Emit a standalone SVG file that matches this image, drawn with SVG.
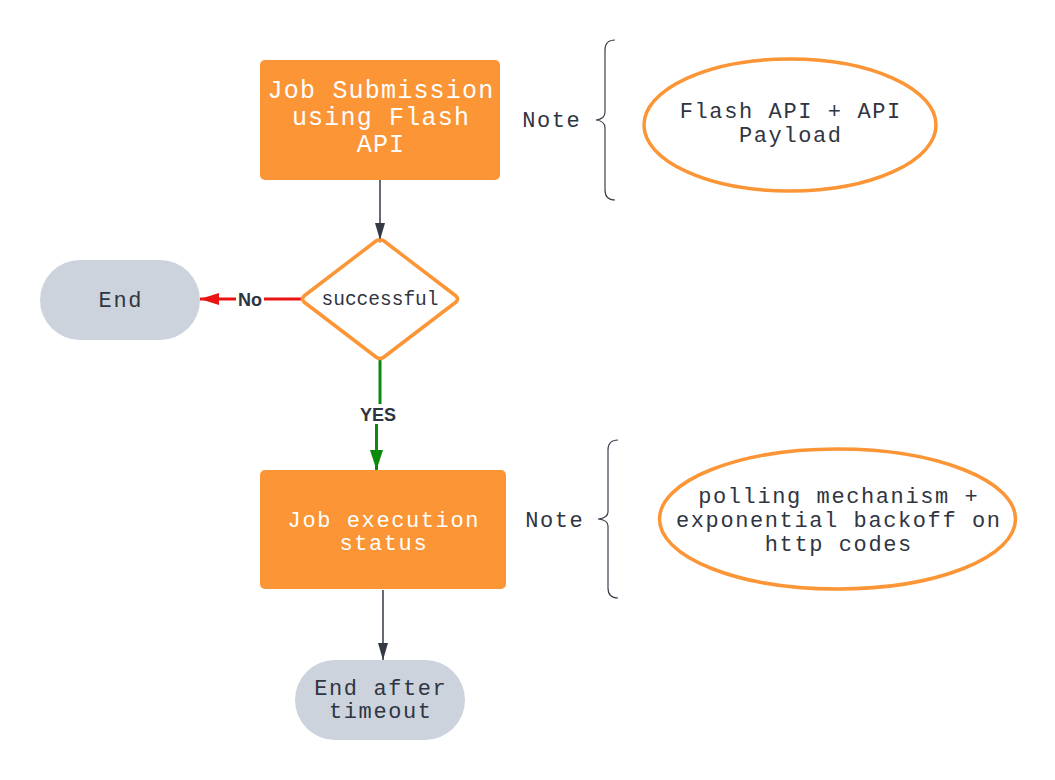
<svg xmlns="http://www.w3.org/2000/svg" width="1055" height="780" viewBox="0 0 1055 780">
<defs>
<style>
.box{fill:#fb9535;}
.pill{fill:#cdd3dc;}
.wt{fill:#ffffff;font-family:"Liberation Mono",monospace;text-anchor:middle;}
.dt{fill:#2f3542;font-family:"Liberation Mono",monospace;text-anchor:middle;}
.m{font-size:22px;letter-spacing:1.6px;}
.b{font-size:25px;letter-spacing:1.2px;}
.lbl{fill:#2f3542;font-family:"Liberation Sans",Arial,sans-serif;font-weight:bold;font-size:18px;text-anchor:middle;}
.note{fill:none;stroke:#fb9535;stroke-width:3.5;}
.brace{fill:none;stroke:#3a404b;stroke-width:1.2;}
</style>
<marker id="ahDark" viewBox="0 0 17 10" refX="17" refY="5" markerWidth="17" markerHeight="10" markerUnits="userSpaceOnUse" orient="auto"><path d="M0,0 L17,5 L0,10 z" fill="#333a45"/></marker>
<marker id="ahRed" viewBox="0 0 19 12" refX="19" refY="6" markerWidth="19" markerHeight="12" markerUnits="userSpaceOnUse" orient="auto"><path d="M0,0 L19,6 L0,12 z" fill="#e81414"/></marker>
<marker id="ahGreen" viewBox="0 0 20 13" refX="20" refY="6.5" markerWidth="20" markerHeight="13" markerUnits="userSpaceOnUse" orient="auto"><path d="M0,0 L20,6.5 L0,13 z" fill="#0a8a0a"/></marker>
</defs>
<rect width="1055" height="780" fill="#ffffff"/>

<g id="connectors">
<path d="M380,180 V240" stroke="#333a45" stroke-width="1.5" fill="none" marker-end="url(#ahDark)"/>
<path d="M301,299 H200" stroke="#e81414" stroke-width="3" fill="none" marker-end="url(#ahRed)"/>
<path d="M380,360 V414 H376.5 V470" stroke="#0a8a0a" stroke-width="3" fill="none" marker-end="url(#ahGreen)"/>
<path d="M383,590 V660" stroke="#333a45" stroke-width="1.5" fill="none" marker-end="url(#ahDark)"/>
<rect x="236" y="289" width="28" height="20" fill="#ffffff"/>
<text class="lbl" x="250" y="306">No</text>
<rect x="358" y="404" width="40" height="20" fill="#ffffff"/>
<text class="lbl" x="378" y="421">YES</text>
</g>

<g id="node-submit">
<rect class="box" x="260" y="60" width="240" height="120" rx="5"/>
<text class="wt b"><tspan x="381" y="98">Job Submission</tspan><tspan x="381" y="125">using Flash</tspan><tspan x="381" y="152">API</tspan></text>
</g>

<g id="node-note1">
<text class="dt m" x="551.8" y="127">Note</text>
<path class="brace" d="M615,40 Q605,40 605,50 V112 Q605,119 596,120 Q605,121 605,128 V190 Q605,200 615,200"/>
</g>

<g id="node-payload">
<ellipse class="note" cx="790" cy="125" rx="146" ry="66" fill="#ffffff"/>
<text class="dt m"><tspan x="790.8" y="118">Flash API + API</tspan><tspan x="790.8" y="142">Payload</tspan></text>
</g>

<g id="node-decision">
<path d="M380,241 Q382,239 384,241 L456,296 Q459,299 456,302 L384,357 Q380,360 376,357 L304,302 Q301,299 304,296 L376,241 Q378,239 380,241 z" fill="#ffffff" stroke="#fb9535" stroke-width="3.5" stroke-linejoin="round"/>
<text class="dt" x="380" y="305" font-size="19.5">successful</text>
</g>

<g id="node-end">
<rect class="pill" x="40" y="260" width="160" height="80" rx="40"/>
<text class="dt m" x="120.8" y="307">End</text>
</g>

<g id="node-status">
<rect class="box" x="260" y="470" width="246" height="119" rx="5"/>
<text class="wt m"><tspan x="383.8" y="527">Job execution</tspan><tspan x="383.8" y="550">status</tspan></text>
</g>

<g id="node-note2">
<text class="dt m" x="554.8" y="527">Note</text>
<path class="brace" d="M618,440 Q608,440 608,450 V512 Q608,518 598,519 Q608,520 608,526 V588 Q608,598 618,598"/>
</g>

<g id="node-polling">
<ellipse class="note" cx="837.5" cy="519" rx="178" ry="70" fill="#ffffff"/>
<text class="dt m"><tspan x="838.8" y="503">polling mechanism +</tspan><tspan x="838.8" y="527">exponential backoff on</tspan><tspan x="838.8" y="551">http codes</tspan></text>
</g>

<g id="node-timeout">
<rect class="pill" x="295" y="660" width="170" height="80" rx="40"/>
<text class="dt m"><tspan x="380.8" y="695">End after</tspan><tspan x="380.8" y="718">timeout</tspan></text>
</g>
</svg>
